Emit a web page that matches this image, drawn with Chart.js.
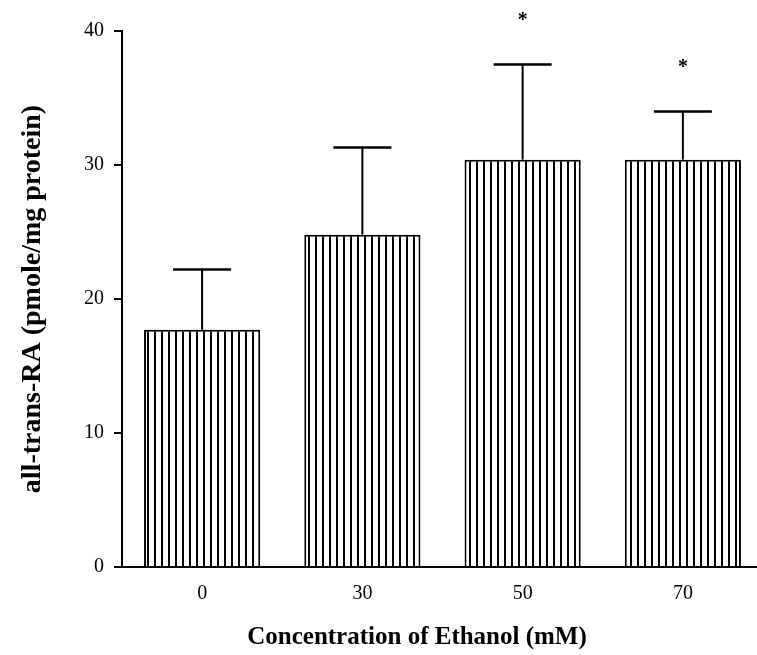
<!DOCTYPE html>
<html>
<head>
<meta charset="utf-8">
<script src="https://cdn.jsdelivr.net/npm/chart.js@4.4.0/dist/chart.umd.min.js"></script>
<style>
  html, body { margin: 0; padding: 0; background: #fff; overflow: hidden; }
  #wrap { width: 765px; height: 655px; }
</style>
</head>
<body>
<div id="wrap"><canvas id="barChart"></canvas></div>
<script>
// values
const concentrations = ['0', '30', '50', '70'];
const meanRA = [17.7, 24.8, 30.4, 30.4];
const errorTop = [22.2, 31.3, 37.5, 34.0];
const significance = ['', '', '*', '*'];
const yTicks = [0, 10, 20, 30, 40];

const serif = "'Liberation Serif', 'DejaVu Serif', serif";

// vertical hatching like the printed bars
function stripePattern() {
  const c = document.createElement('canvas');
  c.width = 7;
  c.height = 10;
  const g = c.getContext('2d');
  g.fillStyle = '#fff';
  g.fillRect(0, 0, 7, 10);
  g.fillStyle = '#000';
  g.fillRect(0, 0, 2, 10);
  return g.createPattern(c, 'repeat');
}

// upper error bars, asterisks and the x axis title
const extrasPlugin = {
  id: 'extras',
  afterDatasetsDraw(chart) {
    const ctx = chart.ctx;
    const x = chart.scales.x;
    const y = chart.scales.y;
    ctx.save();
    ctx.strokeStyle = '#000';
    ctx.fillStyle = '#000';
    errorTop.forEach((v, i) => {
      const cx = x.getPixelForValue(i);
      const yb = y.getPixelForValue(meanRA[i]);
      const yt = y.getPixelForValue(v);
      ctx.lineWidth = 2;
      ctx.beginPath();
      ctx.moveTo(cx, yb);
      ctx.lineTo(cx, yt);
      ctx.stroke();
      ctx.lineWidth = 2.5;
      ctx.beginPath();
      ctx.moveTo(cx - 29, yt);
      ctx.lineTo(cx + 29, yt);
      ctx.stroke();
      if (significance[i]) {
        ctx.font = 'bold 20px ' + serif;
        ctx.textAlign = 'center';
        ctx.textBaseline = 'middle';
        ctx.fillText(significance[i], cx, yt - 44);
      }
    });
    ctx.font = 'bold 25px ' + serif;
    ctx.textAlign = 'center';
    ctx.textBaseline = 'middle';
    ctx.fillText('Concentration of Ethanol (mM)', 417, 638);
    ctx.restore();
  }
};

const ctx = document.getElementById('barChart').getContext('2d');

new Chart(ctx, {
  type: 'bar',
  data: {
    labels: concentrations,
    datasets: [{
      data: meanRA,
      backgroundColor: stripePattern(),
      borderColor: '#000',
      borderWidth: 2,
      borderSkipped: 'bottom',
      barPercentage: 0.725,
      categoryPercentage: 1.0
    }]
  },
  options: {
    responsive: true,
    maintainAspectRatio: false,
    animation: false,
    layout: {
      padding: { top: 31, right: 2, left: 0, bottom: 0 }
    },
    plugins: {
      legend: { display: false },
      tooltip: { enabled: false }
    },
    scales: {
      x: {
        afterFit: scale => { scale.height = 88; },
        grid: { drawOnChartArea: false, drawTicks: false },
        border: { color: '#000', width: 2 },
        ticks: {
          color: '#000',
          padding: 15,
          font: { family: serif, size: 20 }
        }
      },
      y: {
        min: 0,
        max: 40,
        afterFit: scale => { scale.width = 122; },
        afterBuildTicks: scale => {
          scale.ticks = yTicks.map(v => ({ value: v }));
        },
        grid: {
          drawOnChartArea: false,
          tickLength: 8,
          color: '#000',
          lineWidth: 2
        },
        border: { color: '#000', width: 2 },
        ticks: {
          color: '#000',
          padding: 10,
          font: { family: serif, size: 20 }
        },
        title: {
          display: true,
          text: 'all-trans-RA (pmole/mg protein)',
          color: '#000',
          padding: { top: 16, bottom: 0 },
          font: { family: serif, size: 28, weight: 'bold' }
        }
      }
    }
  },
  plugins: [extrasPlugin]
});
</script>
</body>
</html>
